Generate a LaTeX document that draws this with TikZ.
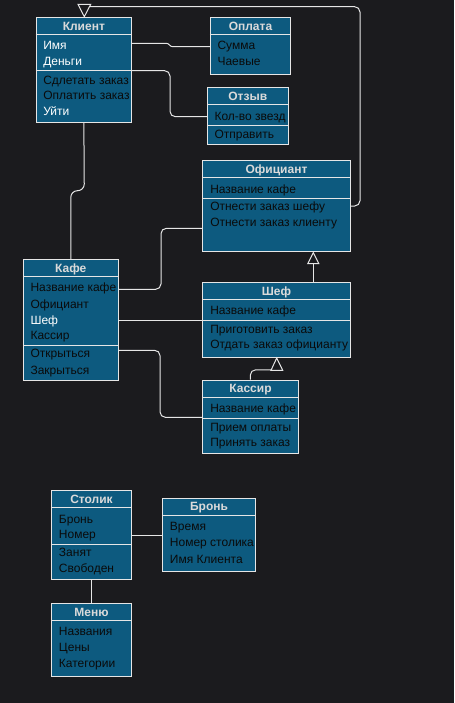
\documentclass[tikz,border=0pt]{standalone}
\usepackage{fontspec}
\setmainfont{Liberation Sans}
\usetikzlibrary{arrows.meta,fit}
\definecolor{bg}{HTML}{1B1B1E}
\definecolor{boxfill}{HTML}{0D5A7F}
\definecolor{edge}{HTML}{E6E6E6}
\definecolor{titletext}{HTML}{DADADA}
\definecolor{darktext}{HTML}{0A0A0A}
\begin{document}
\begin{tikzpicture}[x=0.75pt,y=-0.75pt, font=\fontsize{9}{11}\selectfont,
 umlbox/.style={draw=edge, fill=boxfill, line width=0.75pt, inner sep=0pt},
 divider/.style={draw=edge, line width=0.75pt},
 ttl/.style={font=\fontsize{9}{11}\selectfont\bfseries, text=titletext, inner sep=0pt, text height=6.4pt, text depth=0pt},
 attr/.style={anchor=west, text=darktext, inner sep=0pt, text height=6.4pt, text depth=0pt},
 wattr/.style={attr, text=white},
 conn/.style={draw=edge, line width=0.75pt, rounded corners=4pt},
 inh/.style={conn, -{Triangle[open, length=9.5pt, width=9.3pt]}},
 tri/.style={draw=edge, fill=bg, line width=0.75pt},
]
\fill[bg] (0,0) rectangle (454,703);
\useasboundingbox (0,0) rectangle (454,703);

% ---------- Клиент
\node[umlbox, fit={(36,17.3) (131.7,122.3)}] (klient) {};
\draw[divider] (klient.west |- 0,34.3) -- (klient.east |- 0,34.3);
\draw[divider] (klient.west |- 0,70.7) -- (klient.east |- 0,70.7);
\node[ttl] (klientT) at (83.85,25.8) {Клиент};
\node[wattr] (k1) at (43,45.7) {Имя};
\node[wattr] (k2) at (43,61.7) {Деньги};
\node[attr] (k3) at (43,80) {Сдлетать заказ};
\node[attr] (k4) at (43,95.7) {Оплатить заказ};
\node[wattr] (k5) at (43,111.7) {Уйти};

% ---------- Оплата
\node[umlbox, fit={(210.3,17.3) (290.7,74.3)}] (oplata) {};
\draw[divider] (oplata.west |- 0,34.3) -- (oplata.east |- 0,34.3);
\node[ttl] (oplataT) at (250.5,25.8) {Оплата};
\node[attr] (o1) at (217.3,45.7) {Сумма};
\node[attr] (o2) at (217.3,61.7) {Чаевые};

% ---------- Отзыв
\node[umlbox, fit={(207.3,87.3) (288.3,144.3)}] (otzyv) {};
\draw[divider] (otzyv.west |- 0,104.3) -- (otzyv.east |- 0,104.3);
\draw[divider] (otzyv.west |- 0,125.7) -- (otzyv.east |- 0,125.7);
\node[ttl] (otzyvT) at (247.8,95.8) {Отзыв};
\node[attr] (z1) at (214.3,116.7) {Кол-во звезд};
\node[attr] (z2) at (214.3,134.3) {Отправить};

% ---------- Официант
\node[umlbox, fit={(202.7,160.3) (350.3,251)}] (ofic) {};
\draw[divider] (ofic.west |- 0,177.3) -- (ofic.east |- 0,177.3);
\draw[divider] (ofic.west |- 0,198.7) -- (ofic.east |- 0,198.7);
\node[ttl] (oficT) at (276.5,168.8) {Официант};
\node[attr] (f1) at (210,189) {Название кафе};
\node[attr] (f2) at (210,206.7) {Отнести заказ шефу};
\node[attr] (f3) at (210,222.7) {Отнести заказ клиенту};

% ---------- Шеф
\node[umlbox, fit={(202.7,282.3) (350.3,357.3)}] (shef) {};
\draw[divider] (shef.west |- 0,299.3) -- (shef.east |- 0,299.3);
\draw[divider] (shef.west |- 0,320) -- (shef.east |- 0,320);
\node[ttl] (shefT) at (276.5,290.8) {Шеф};
\node[attr] (s1) at (210,310) {Название кафе};
\node[attr] (s2) at (210,329) {Приготовить заказ};
\node[attr] (s3) at (210,344.3) {Отдать заказ официанту};

% ---------- Кассир
\node[umlbox, fit={(202.7,380) (298.3,453.3)}] (kassir) {};
\draw[divider] (kassir.west |- 0,397.3) -- (kassir.east |- 0,397.3);
\draw[divider] (kassir.west |- 0,418.3) -- (kassir.east |- 0,418.3);
\node[ttl] (kassirT) at (250.5,388.7) {Кассир};
\node[attr] (c1) at (210,408.7) {Название кафе};
\node[attr] (c2) at (210,427) {Прием оплаты};
\node[attr] (c3) at (210,442.7) {Принять заказ};

% ---------- Кафе
\node[umlbox, fit={(23.3,259.3) (118.3,380)}] (kafe) {};
\draw[divider] (kafe.west |- 0,276.7) -- (kafe.east |- 0,276.7);
\draw[divider] (kafe.west |- 0,345.7) -- (kafe.east |- 0,345.7);
\node[ttl] (kafeT) at (70.8,268) {Кафе};
\node[attr] (a1) at (30.3,287.7) {Название кафе};
\node[attr] (a2) at (30.3,304) {Официант};
\node[wattr] (a3) at (30.3,320) {Шеф};
\node[attr] (a4) at (30.3,335.7) {Кассир};
\node[attr] (a5) at (30.3,353.3) {Открыться};
\node[attr] (a6) at (30.3,370) {Закрыться};

% ---------- Столик
\node[umlbox, fit={(51.3,490.3) (131.7,579.3)}] (stolik) {};
\draw[divider] (stolik.west |- 0,507.7) -- (stolik.east |- 0,507.7);
\draw[divider] (stolik.west |- 0,544) -- (stolik.east |- 0,544);
\node[ttl] (stolikT) at (91.5,499) {Столик};
\node[attr] (t1) at (58.7,519) {Бронь};
\node[attr] (t2) at (58.7,534.3) {Номер};
\node[attr] (t3) at (58.7,552.3) {Занят};
\node[attr] (t4) at (58.7,568.7) {Свободен};

% ---------- Бронь
\node[umlbox, fit={(162.3,498.3) (255.7,571)}] (bron) {};
\draw[divider] (bron.west |- 0,515) -- (bron.east |- 0,515);
\node[ttl] (bronT) at (209,506.7) {Бронь};
\node[attr] (b1) at (169.7,526.7) {Время};
\node[attr] (b2) at (169.7,542.7) {Номер столика};
\node[attr] (b3) at (169.7,559) {Имя Клиента};

% ---------- Меню
\node[umlbox, fit={(51.3,603.3) (131.7,676)}] (menu) {};
\draw[divider] (menu.west |- 0,620.3) -- (menu.east |- 0,620.3);
\node[ttl] (menuT) at (91.5,611.8) {Меню};
\node[attr] (m1) at (58.7,631.7) {Названия};
\node[attr] (m2) at (58.7,647.7) {Цены};
\node[attr] (m3) at (58.7,663.7) {Категории};

% ---------- connectors
\draw[conn, sharp corners] (klient.east |- 0,43.3) -- (166,43.3) .. controls (170,43.3) and (169,46.7) .. (173,46.7) -- (oplata.west |- 0,46.7);
\draw[conn] (klient.east |- 0,70.7) -- (170,70.7) -- (170,116.7) -- (otzyv.west |- 0,116.7);
\draw[conn] (ofic.east |- 0,206) -- (360,206) -- (360,6.7) -- (88,6.7);
\draw[tri] (78,4.3) -- (90.7,4.3) -- (84.3,16.7) -- cycle;
\draw[conn, rounded corners=5pt] (klient.south) -- (84.3,190.7) -- (70.8,190.7) -- (kafe.north);
\draw[conn] (kafe.east |- 0,289.3) -- (161,289.3) -- (161,228.3) -- (ofic.west |- 0,228.3);
\draw[conn] (kafe.east |- 0,320.3) -- (shef.west |- 0,320.3);
\draw[conn] (kafe.east |- 0,350.3) -- (160,350.3) -- (160,417.3) -- (kassir.west |- 0,417.3);
\draw[inh] (shef.north -| 313.3,0) -- (ofic.south -| 313.3,0);
\draw[conn] (kassir.north -| 250.3,0) -- (250.3,369.8) -- (272,369.8);
\draw[tri] (271,370.3) -- (282.7,370.3) -- (276.7,358) -- cycle;
\draw[conn] (stolik.east |- 0,535.7) -- (bron.west |- 0,535.7);
\draw[conn] (stolik.south -| 91.3,0) -- (menu.north -| 91.3,0);
\end{tikzpicture}
\end{document}
